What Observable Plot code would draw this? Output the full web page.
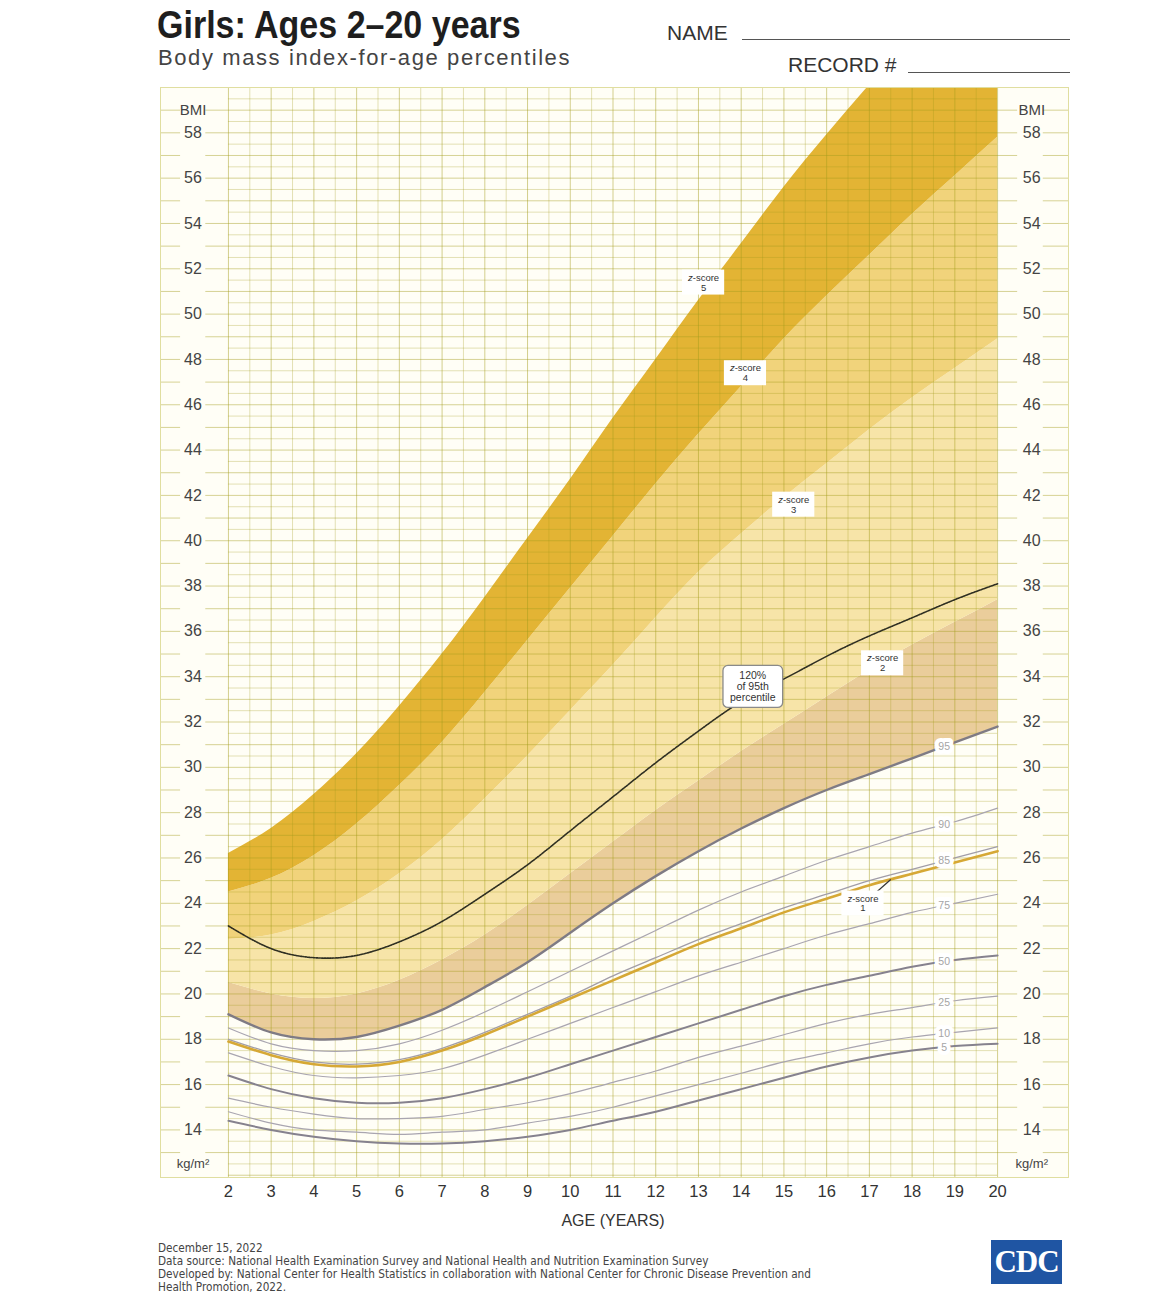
<!DOCTYPE html>
<html><head><meta charset="utf-8">
<script src="https://cdn.jsdelivr.net/npm/d3@7"></script>
<script src="https://cdn.jsdelivr.net/npm/@observablehq/plot@0.6"></script>
<style>
body{margin:0;background:#fff;width:1156px;height:1313px;position:relative;overflow:hidden;font-family:"Liberation Sans",Arial,sans-serif;}
.abs{position:absolute;white-space:nowrap;line-height:1;}
#title{left:157px;top:6px;font-family:"Liberation Sans",Arial,sans-serif;font-weight:bold;font-size:38px;color:#1e1e1e;transform:scaleX(0.895);transform-origin:0 0;}
#subtitle{left:158px;top:47px;font-size:22px;color:#444;letter-spacing:1.6px;}
#name{left:667px;top:22px;font-size:21px;color:#333;}
#record{left:788px;top:54px;font-size:21px;color:#333;}
.uline{position:absolute;height:0;border-top:1.5px solid #555;}
#chart{position:absolute;left:0;top:80px;}
#footer{left:158px;top:1242px;font-family:"DejaVu Sans Condensed","Liberation Sans",sans-serif;font-size:11.7px;line-height:13px;color:#444;}
#cdc{position:absolute;left:991px;top:1240px;width:71px;height:44px;background:#1f55a3;color:#fff;font-family:"Liberation Serif","DejaVu Serif",serif;font-weight:bold;font-size:31px;text-align:center;line-height:44px;letter-spacing:-1px;}
</style></head>
<body>
<div id="title" class="abs">Girls: Ages 2–20 years</div>
<div id="subtitle" class="abs">Body mass index-for-age percentiles</div>
<div id="name" class="abs">NAME</div>
<div class="uline" style="left:742px;top:39px;width:328px;"></div>
<div id="record" class="abs">RECORD #</div>
<div class="uline" style="left:908px;top:72px;width:162px;"></div>
<div id="chart"></div>
<div id="footer" class="abs">December 15, 2022<br>Data source: National Health Examination Survey and National Health and Nutrition Examination Survey<br>Developed by: National Center for Health Statistics in collaboration with National Center for Chronic Disease Prevention and<br>Health Promotion, 2022.</div>
<div id="cdc">CDC</div>
<script>
// ---- data (BMI, kg/m²) ----
const ages = [2,3,4,5,6,7,8,9,10,11,12,13,14,15,16,17,18,19,20];
const p5   = [14.4,14.0,13.7,13.5,13.4,13.4,13.5,13.7,14.0,14.4,14.8,15.3,15.8,16.3,16.8,17.2,17.5,17.7,17.8];
const p10  = [14.8,14.3,14.0,13.9,13.8,13.9,14.0,14.3,14.6,15.0,15.5,16.0,16.5,17.0,17.4,17.8,18.1,18.3,18.5];
const p25  = [15.4,15.0,14.7,14.5,14.5,14.6,14.9,15.2,15.6,16.1,16.6,17.2,17.7,18.2,18.7,19.1,19.4,19.7,19.9];
const p50  = [16.4,15.8,15.4,15.2,15.2,15.4,15.8,16.3,16.9,17.5,18.1,18.7,19.3,19.9,20.4,20.8,21.2,21.5,21.7];
const p75  = [17.4,16.8,16.4,16.3,16.4,16.7,17.3,18.0,18.7,19.4,20.1,20.8,21.4,22.0,22.6,23.1,23.6,24.0,24.4];
const p85  = [18.0,17.4,17.0,16.9,17.1,17.6,18.3,19.1,19.9,20.8,21.6,22.4,23.1,23.8,24.4,25.0,25.5,26.0,26.5];
const p90  = [18.5,17.8,17.5,17.5,17.8,18.4,19.2,20.1,21.0,21.9,22.8,23.7,24.5,25.2,25.9,26.5,27.1,27.6,28.2];
const p95  = [19.1,18.3,18.0,18.1,18.6,19.3,20.3,21.4,22.7,24.0,25.2,26.3,27.3,28.2,29.0,29.7,30.4,31.1,31.8];
const z1   = [17.9,17.3,16.9,16.8,17.0,17.5,18.2,19.0,19.8,20.6,21.4,22.2,22.9,23.6,24.2,24.8,25.3,25.8,26.3];
const p120 = [23.0,22.0,21.6,21.7,22.3,23.2,24.4,25.7,27.2,28.7,30.2,31.6,32.9,33.9,34.9,35.8,36.6,37.4,38.1];
const z2   = [20.5,20.0,19.8,20.0,20.6,21.5,22.6,23.9,25.3,26.7,28.1,29.4,30.7,31.9,33.1,34.3,35.4,36.4,37.4];
const z3   = [22.4,22.6,23.2,24.1,25.3,26.8,28.6,30.5,32.5,34.5,36.6,38.6,40.3,41.9,43.4,44.9,46.3,47.6,48.9];
const z4   = [24.5,25.1,26.1,27.5,29.2,31.1,33.3,35.6,37.9,40.2,42.5,44.7,46.8,48.9,50.8,52.6,54.4,56.1,57.8];
const z5   = [26.2,27.3,28.8,30.6,32.7,35.0,37.5,40.1,42.7,45.4,48.0,50.6,53.1,55.6,57.9,60.1,62.2,64.2,66.0];

const ageTicks = [2,3,4,5,6,7,8,9,10,11,12,13,14,15,16,17,18,19,20];
const bmiTickLabels = [14,16,18,20,22,24,26,28,30,32,34,36,38,40,42,44,46,48,50,52,54,56,58];
const pctNames = ["95","90","85","75","50","25","10","5"];
const zNames = ["1","2","3","4","5"];
// annotation anchors (age, BMI)
const zLabelPos = [[16.85,24.0],[17.31,34.6],[15.23,41.6],[14.1,47.4],[13.12,51.4]];
const boxPos = [14.27,33.55];
const pctLabelAge = 18.75;

// ---- build tables ----
const rows = ages.map((age,i)=>({age,p5:p5[i],p10:p10[i],p25:p25[i],p50:p50[i],p75:p75[i],p85:p85[i],p90:p90[i],p95:p95[i],z1:z1[i],p120:p120[i],z2:z2[i],z3:z3[i],z4:z4[i],z5:z5[i]}));
const pctSeries = {"95":p95,"90":p90,"85":p85,"75":p75,"50":p50,"25":p25,"10":p10,"5":p5};
const li = ages.indexOf(Math.floor(pctLabelAge)), lf = pctLabelAge - Math.floor(pctLabelAge);
const pctLabels = pctNames.map(n=>{const s=pctSeries[n];return {label:n, age:pctLabelAge, v:s[li]+(s[li+1]-s[li])*lf};});
const zLabels = zNames.map((n,i)=>({text:"z-score\n"+n, age:zLabelPos[i][0], v:zLabelPos[i][1]}));

const halfAges = d3.range(2,20.001,0.5);
const halfBmi = d3.range(12,59.501,0.5);
const intBmi = d3.range(13,60,1);
const YB = 11.9, YT = 60;
const curve = "natural";
const segs = [[0.41,0.88],[1.47,2.0],[20.0,20.47],[21.07,21.66]];
const marginTicks = [];
intBmi.forEach(b=>segs.forEach(s=>marginTicks.push({b,x1:s[0],x2:s[1]})));

const lineStyles = [
  ["p10","#a9a5b0",1.2],["p25","#a9a5b0",1.2],["p75","#a9a5b0",1.2],["p85","#a19da8",1.3],["p90","#a9a5b0",1.2],
  ["p5","#86828e",2],["p50","#86828e",2],["p95","#7f7b84",2.4]
];

const plot = Plot.plot({
  width:1156, height:1150,
  marginTop:7, marginBottom:53, marginLeft:160, marginRight:88,
  x:{domain:[0.41,21.66], axis:null},
  y:{domain:[YB,YT], axis:null},
  style:{fontFamily:"'Liberation Sans', Arial, sans-serif", background:"transparent", overflow:"visible"},
  marks:[
    Plot.frame({fill:"#fffef6"}),
    Plot.areaY(rows,{x:"age", y1:"p95", y2:"z2", fill:"#eacd9b", curve, clip:true}),
    Plot.areaY(rows,{x:"age", y1:"z2", y2:"z3", fill:"#f7e4a8", curve, clip:true}),
    Plot.areaY(rows,{x:"age", y1:"z3", y2:"z4", fill:"#f1d37b", curve, clip:true}),
    Plot.areaY(rows,{x:"age", y1:"z4", y2:"z5", fill:"#e3b434", curve, clip:true}),
    // grid
    Plot.ruleY(halfBmi,{y:d=>d, x1:()=>2, x2:()=>20, stroke:"#a39d1c", strokeOpacity:d=>Number.isInteger(d)?0.45:0.3, strokeWidth:1}),
    Plot.ruleX(halfAges,{x:d=>d, y1:()=>YB, y2:()=>YT, stroke:"#a39d1c", strokeOpacity:d=>Number.isInteger(d)?0.48:0.3, strokeWidth:1}),
    Plot.ruleY(marginTicks,{y:"b", x1:"x1", x2:"x2", stroke:"#a39d1c", strokeOpacity:0.45}),
    // margin labels
    Plot.text(bmiTickLabels,{x:()=>1.17, y:d=>d, text:d=>String(d), fontSize:16, fill:"#444"}),
    Plot.text(bmiTickLabels,{x:()=>20.8, y:d=>d, text:d=>String(d), fontSize:16, fill:"#444"}),
    Plot.text(["BMI"],{x:()=>1.17, y:()=>59, text:d=>d, fontSize:15, fill:"#444"}),
    Plot.text(["BMI"],{x:()=>20.8, y:()=>59, text:d=>d, fontSize:15, fill:"#444"}),
    Plot.text(["kg/m²"],{x:()=>1.17, y:()=>12.5, text:d=>d, fontSize:13, fill:"#444"}),
    Plot.text(["kg/m²"],{x:()=>20.8, y:()=>12.5, text:d=>d, fontSize:13, fill:"#444"}),
    // percentile curves
    ...lineStyles.map(([k,c,w])=>Plot.line(rows,{x:"age", y:k, stroke:c, strokeWidth:w, curve})),
    Plot.line(rows,{x:"age", y:"z1", stroke:"#d6a835", strokeWidth:2.6, curve}),
    Plot.line(rows,{x:"age", y:"p120", stroke:"#2f2f22", strokeWidth:1.6, strokeDasharray:"1.6 1.1", curve}),
    // labels
    Plot.text(pctLabels,{x:"age", y:"v", text:"label", fontSize:10.5, fill:"#a5a5a5", stroke:"#ffffff", strokeWidth:8}),
    Plot.link([0],{x1:()=>17.05, y1:()=>24.3, x2:()=>17.5, y2:()=>25.05, stroke:"#333", strokeWidth:1.2}),
    Plot.text(zLabels,{x:"age", y:"v", text:"text", fontSize:9.5, lineHeight:1.05, fill:"#333"}),
    Plot.text(["120%\nof 95th\npercentile"],{x:()=>boxPos[0], y:()=>boxPos[1], text:d=>d, fontSize:10.5, lineHeight:1.05, fill:"#333"}),
    // x axis
    Plot.text(ageTicks,{x:d=>d, y:()=>YB, dy:14, text:d=>String(d), fontSize:16.5, fill:"#333"}),
    Plot.text(["AGE (YEARS)"],{x:()=>11, y:()=>YB, dy:43, text:d=>d, fontSize:16, fill:"#333"}),
    Plot.frame({stroke:"#e0dea0"})
  ]
});
document.getElementById("chart").append(plot);

// white boxes behind annotation texts
const NS = "http://www.w3.org/2000/svg";
plot.querySelectorAll("text").forEach(t=>{
  const s = t.textContent;
  const isZ = s.startsWith("z-score"), isBox = s.startsWith("120%");
  if(!isZ && !isBox) return;
  if(isZ){ const first = t.querySelector("tspan"); if(first) first.innerHTML = '<tspan font-style="italic">z</tspan>-score'; }
  const b = t.getBBox();
  const r = document.createElementNS(NS,"rect");
  const px = isBox?7:5, py = isBox?4:2;
  r.setAttribute("x", b.x-px); r.setAttribute("y", b.y-py);
  r.setAttribute("width", b.width+2*px); r.setAttribute("height", b.height+2*py);
  r.setAttribute("fill","#ffffff");
  if(isBox){ r.setAttribute("stroke","#8a8a8a"); r.setAttribute("stroke-width","1.3"); r.setAttribute("rx","5"); }
  if(t.getAttribute("transform")) r.setAttribute("transform", t.getAttribute("transform"));
  t.parentNode.insertBefore(r,t);
});
</script>
</body></html>
